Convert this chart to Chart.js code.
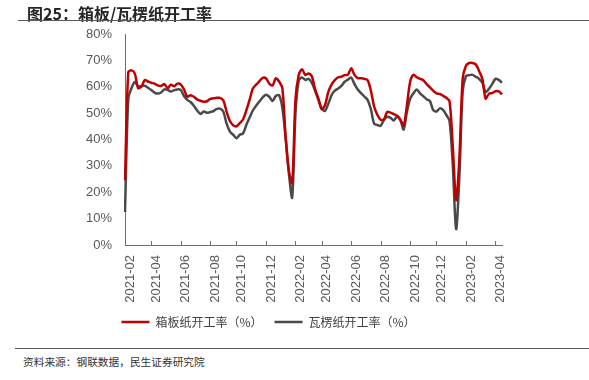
<!DOCTYPE html>
<html>
<head>
<meta charset="utf-8">
<script src="https://cdn.jsdelivr.net/npm/chart.js@4.4.1/dist/chart.umd.min.js"></script>
<style>
    body { margin: 0; background: #fff; }
    #page { position: relative; width: 589px; height: 380px; overflow: hidden; font-family: "Noto Sans CJK SC", sans-serif; }
    #titulo { position: absolute; left: 27px; top: 1px; font-size: 16px; font-weight: bold; color: #262626; white-space: nowrap; }
    #linha-topo { position: absolute; left: 18px; top: 20px; width: 571px; border-top: 1.5px solid #595959; }
    #grafico { position: absolute; left: 0; top: 0; }
    #linha-base { position: absolute; left: 15px; top: 348px; width: 574px; border-top: 1.5px solid #595959; }
    #fonte { position: absolute; left: 23px; top: 354px; font-size: 10.7px; color: #333; white-space: nowrap; }
</style>
</head>
<body>
<div id="page">
    <canvas id="grafico" width="589" height="345"></canvas>
    <div id="titulo">图25：箱板/瓦楞纸开工率</div>
    <div id="linha-topo"></div>
    <div id="linha-base"></div>
    <div id="fonte">资料来源：钢联数据，民生证券研究院</div>
</div>
<script>
// Dados semanais (a partir de 2021-02-05)
var startDate = '2021-02-05';
var nWeeks = 116;

var seriesNames = ['箱板纸开工率（%）', '瓦楞纸开工率（%）'];

var boxboard = [
    24.5, 65.5, 66.2, 65, 59.5, 60, 62.5, 62, 61.5, 61.2,
    60.5, 60.3, 61, 59.5, 60.8, 60.2, 61.2, 60.9, 59, 56.2,
    56.8, 56.2, 55.2, 54.7, 54.3, 54.5, 55.4, 55.6, 55.8, 55.8,
    54.8, 50.5, 47, 45.4, 45, 46.2, 47.6, 51, 55, 59.3,
    60.8, 62.1, 63.4, 63.2, 61.2, 60.5, 63.2, 62, 59.5, 41,
    28, 23.5, 55, 64.5, 66.6, 64.5, 65, 64, 59, 55.5,
    51.5, 53, 58, 60.8, 62.5, 63.6, 63.8, 64.4, 64.6, 67,
    64.5, 63.3, 63.2, 63, 62.5, 58.5, 52.5, 49.3, 47.5, 47.7,
    50.5, 50.2, 49.6, 49, 47.5, 45.3, 53, 62, 64.5, 63.6,
    63, 62.5, 61, 59.8, 58.5, 57.5, 57.3, 56.6, 55.8, 54.5,
    37, 17, 33, 63, 68, 69, 69, 68.5, 66, 63,
    55.5, 57.3, 57.6, 58.3, 58.2, 57.1
];

var corrugated = [
    12.5, 55.5, 59.5, 61.8, 60.2, 60.3, 60.4, 59.6, 58.8, 57.8,
    57.4, 57.8, 59, 58.8, 58.2, 58.7, 59, 58.8, 56.5, 55,
    54.2, 52.8, 51, 49.7, 50.6, 50.1, 50.4, 50.8, 51.6, 51.7,
    50.5, 46, 43, 41.8, 40.5, 41.8, 42.3, 45.5, 48.3, 51,
    52.8, 54.4, 56, 57, 56.2, 54.6, 56.5, 56.8, 52, 40.5,
    27, 18, 50, 62.5, 63.5, 62.6, 63, 61.5, 58.5, 55,
    51.8, 50.8, 53.5, 56.8, 58.5, 59.3, 60.3, 61.9, 62.7, 63.5,
    61, 59, 57.6, 56.3, 55, 51.5, 46, 45.5, 45.2, 47.5,
    48.6, 48.2, 47.2, 48.7, 47.3, 43.8, 50.5, 55.5, 57.5, 59,
    57.5, 56.4, 55.3, 54.6, 51.2, 50.6, 51.8, 51.2, 49.3, 47,
    30, 6, 26, 58, 64, 64.4, 64.5, 63.8, 63, 61.5,
    58, 59.2, 61, 63, 62.6, 61.5
];

var yTicks = [0, 10, 20, 30, 40, 50, 60, 70, 80];

// Datas semanais
var weeks = [];
var d0 = new Date(startDate + 'T00:00:00Z');
for (var i = 0; i < nWeeks; i++) {
    var d = new Date(d0.getTime() + i * 7 * 86400000);
    weeks.push(d.toISOString().slice(0, 10));
}

// Rótulo a cada 2 meses, na primeira semana do mês
function monthLabel(dateStr) {
    var y = +dateStr.slice(0, 4), m = +dateStr.slice(5, 7), day = +dateStr.slice(8, 10);
    var idx = (y - 2021) * 12 + (m - 2);
    if (day <= 7 && idx % 2 === 0) return dateStr.slice(0, 7);
    return null;
}

// Marcas internas no eixo X
var innerTicks = {
    id: 'innerTicks',
    afterDraw: function (chart) {
        var xs = chart.scales.x, ctx = chart.ctx, bottom = chart.chartArea.bottom;
        ctx.save();
        ctx.strokeStyle = '#6e6e6e';
        ctx.lineWidth = 1;
        xs.ticks.forEach(function (t, i) {
            if (t.label == null || t.label === '') return;
            var px = Math.round(xs.getPixelForTick(i)) + 0.5;
            ctx.beginPath();
            ctx.moveTo(px, bottom);
            ctx.lineTo(px, bottom - 4);
            ctx.stroke();
        });
        ctx.restore();
    }
};

var ctx = document.getElementById('grafico').getContext('2d');
new Chart(ctx, {
    type: 'line',
    data: {
        labels: weeks,
        datasets: [
            {
                label: seriesNames[0],
                data: boxboard,
                borderColor: '#C00000',
                backgroundColor: '#C00000',
                borderWidth: 2.5,
                pointRadius: 0,
                tension: 0.3
            },
            {
                label: seriesNames[1],
                data: corrugated,
                borderColor: '#4A4A4A',
                backgroundColor: '#4A4A4A',
                borderWidth: 2.5,
                pointRadius: 0,
                tension: 0.3
            }
        ]
    },
    options: {
        responsive: false,
        animation: false,
        devicePixelRatio: 1,
        layout: { padding: { left: 35, right: 87, top: 34, bottom: 7 } },
        scales: {
            x: {
                type: 'category',
                grid: { display: false, drawTicks: false },
                border: { color: '#6e6e6e', width: 1 },
                ticks: {
                    autoSkip: false,
                    maxRotation: 90,
                    minRotation: 90,
                    padding: 10,
                    labelOffset: 5,
                    color: '#595959',
                    font: { family: '"Liberation Sans", Arial, sans-serif', size: 13 },
                    callback: function (value, index) { return monthLabel(weeks[index]); }
                },
                afterFit: function (scale) { scale.height = 59; }
            },
            y: {
                min: yTicks[0],
                max: yTicks[yTicks.length - 1],
                grid: { display: false, drawTicks: false },
                border: { color: '#6e6e6e', width: 1 },
                afterBuildTicks: function (scale) {
                    scale.ticks = yTicks.map(function (v) { return { value: v }; });
                },
                ticks: {
                    padding: 13,
                    color: '#595959',
                    font: { family: '"Liberation Sans", Arial, sans-serif', size: 13 },
                    callback: function (v) { return v + '%'; }
                },
                afterFit: function (scale) { scale.width = 90; }
            }
        },
        plugins: {
            legend: {
                position: 'bottom',
                labels: {
                    usePointStyle: true,
                    pointStyle: 'line',
                    pointStyleWidth: 28,
                    padding: 12,
                    color: '#404040',
                    font: { family: '"Noto Sans CJK SC", sans-serif', size: 12 }
                }
            },
            tooltip: { enabled: false }
        }
    },
    plugins: [innerTicks]
});
</script>
</body>
</html>
